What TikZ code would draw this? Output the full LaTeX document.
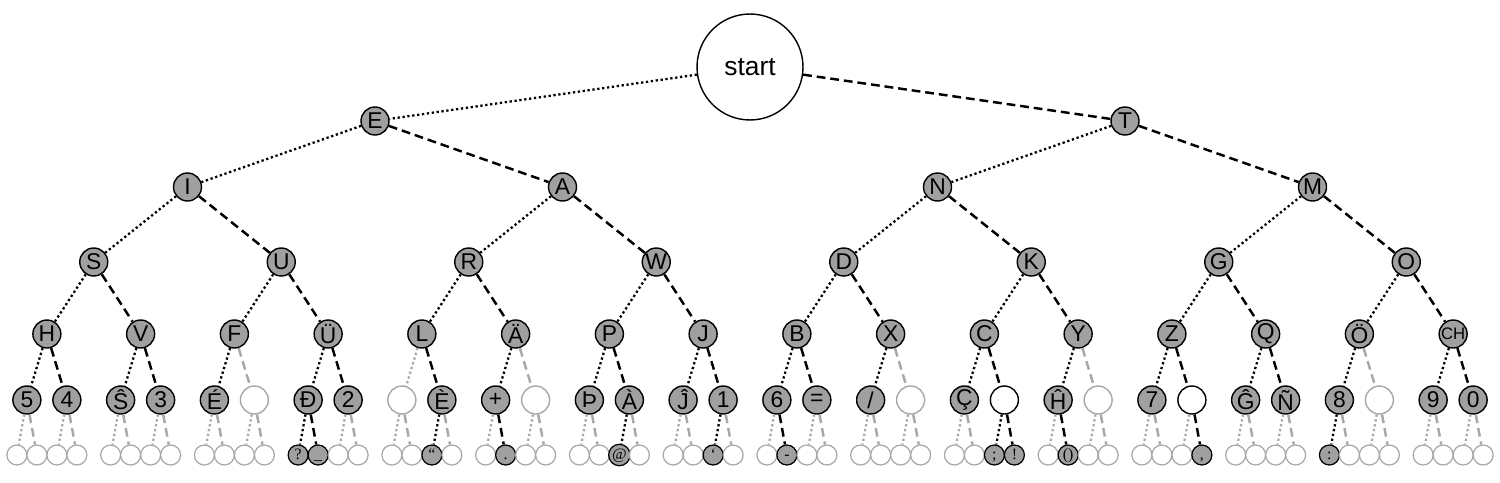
\documentclass[tikz,border=0pt]{standalone}
\usepackage{fontspec}
\setmainfont{Liberation Sans}
\newfontfamily\leafserif{Liberation Serif}
\usepackage{tikz}
\usetikzlibrary{calc}

\definecolor{nodegray}{RGB}{160,160,160}
\definecolor{edgegray}{RGB}{168,168,168}
\newcommand\mslash{/}
\newcommand\mcomma{,}
\newcommand\chlbl{{\fontsize{9.5}{9.5}\selectfont CH}}

\begin{document}
\begin{tikzpicture}[
  x=0.02cm, y=-0.02cm,
  font=\fontsize{13}{13}\selectfont,
  full/.style={circle, draw=black, fill=nodegray, line width=0.8pt,
    inner sep=0pt, minimum size=0.56cm},
  hole/.style={full, fill=white},
  void/.style={full, draw=edgegray, fill=white},
  leaf/.style={minimum size=0.4cm, line width=0.7pt,
    text height=0.68em, text depth=0.22em,
    font=\leafserif\fontsize{9}{9}\selectfont},
  root/.style={circle, draw=black, line width=0.8pt, inner sep=0pt,
    minimum size=2.12cm, font=\fontsize{15}{15}\selectfont},
  linkfull/.style={draw=black},
  linkhole/.style={draw=black},
  linkvoid/.style={draw=edgegray},
  dit/.style={line width=1.3pt, dash pattern=on 1.3pt off 1.5pt},
  dah/.style={line width=1.4pt, dash pattern=on 5pt off 2.8pt},
]
  % 1500 x 483 px, 1px = 0.02cm
  \useasboundingbox (0,0) rectangle (1500,483);

  % root
  \node[root] (m0-0) at (750,67) {start};

  % levels 1 to 4: evenly spread over the width
  \foreach \lvl/\ypos/\lbls in {
      1/121/{E/full,T/full},
      2/187/{I/full,A/full,N/full,M/full},
      3/262/{S/full,U/full,R/full,W/full,D/full,K/full,G/full,O/full},
      4/334/{H/full,V/full,F/full,Ü/full,L/full,Ä/full,P/full,J/full,
             B/full,X/full,C/full,Y/full,Z/full,Q/full,Ö/full,\chlbl/full}} {
    \pgfmathtruncatemacro{\up}{\lvl-1}
    \foreach \lbl/\kind [count=\j from 0] in \lbls {
      \pgfmathsetmacro{\x}{(2*\j+1)/(2^(\lvl+1))*1500}
      \pgfmathtruncatemacro{\p}{\j/2}
      \ifodd\j \def\tick{dah}\else\def\tick{dit}\fi
      \node[\kind] (m\lvl-\j) at (\x,\ypos) {\lbl};
      \draw[link\kind, \tick] (m\up-\p) -- (m\lvl-\j);
    }
  }

  % level 5: +-20px around the parent
  \foreach \lbl/\kind [count=\j from 0] in {
      5/full, 4/full, Ŝ/full, 3/full, É/full, {}/void, Đ/full, 2/full,
      {}/void, È/full, +/full, {}/void, Þ/full, À/full, Ĵ/full, 1/full,
      6/full, =/full, \mslash/full, {}/void, Ç/full, {}/hole, Ĥ/full, {}/void,
      7/full, {}/hole, Ĝ/full, Ñ/full, 8/full, {}/void, 9/full, 0/full} {
    \pgfmathtruncatemacro{\p}{\j/2}
    \pgfmathsetmacro{\x}{(2*\p+1)/32*1500 + 20*(2*mod(\j,2)-1)}
    \ifodd\j \def\tick{dah}\else\def\tick{dit}\fi
    \node[\kind] (m5-\j) at (\x,400) {\lbl};
    \draw[link\kind, \tick] (m4-\p) -- (m5-\j);
  }

  % level 6: +-10px around the parent
  \foreach \lbl/\kind [count=\j from 0] in {
      {}/void, {}/void, {}/void, {}/void, {}/void, {}/void, {}/void, {}/void,
      {}/void, {}/void, {}/void, {}/void, ?/full, \_/full, {}/void, {}/void,
      {}/void, {}/void, “/full, {}/void, {}/void, ./full, {}/void, {}/void,
      {}/void, {}/void, @/full, {}/void, {}/void, {}/void, ‘/full, {}/void,
      {}/void, -/full, {}/void, {}/void, {}/void, {}/void, {}/void, {}/void,
      {}/void, {}/void, ;/full, !/full, {}/void, ()/full, {}/void, {}/void,
      {}/void, {}/void, {}/void, \mcomma/full, {}/void, {}/void, {}/void, {}/void,
      :/full, {}/void, {}/void, {}/void, {}/void, {}/void, {}/void, {}/void} {
    \pgfmathtruncatemacro{\p}{\j/2}
    \pgfmathsetmacro{\x}{(2*int(\j/4)+1)/32*1500 + 20*(2*mod(\p,2)-1)
      + 10*(2*mod(\j,2)-1)}
    \ifodd\j \def\tick{dah}\else\def\tick{dit}\fi
    \node[\kind, leaf] (m6-\j) at (\x,455) {\lbl};
    \draw[link\kind, \tick] (m5-\p) -- (m6-\j);
  }

\end{tikzpicture}
\end{document}
